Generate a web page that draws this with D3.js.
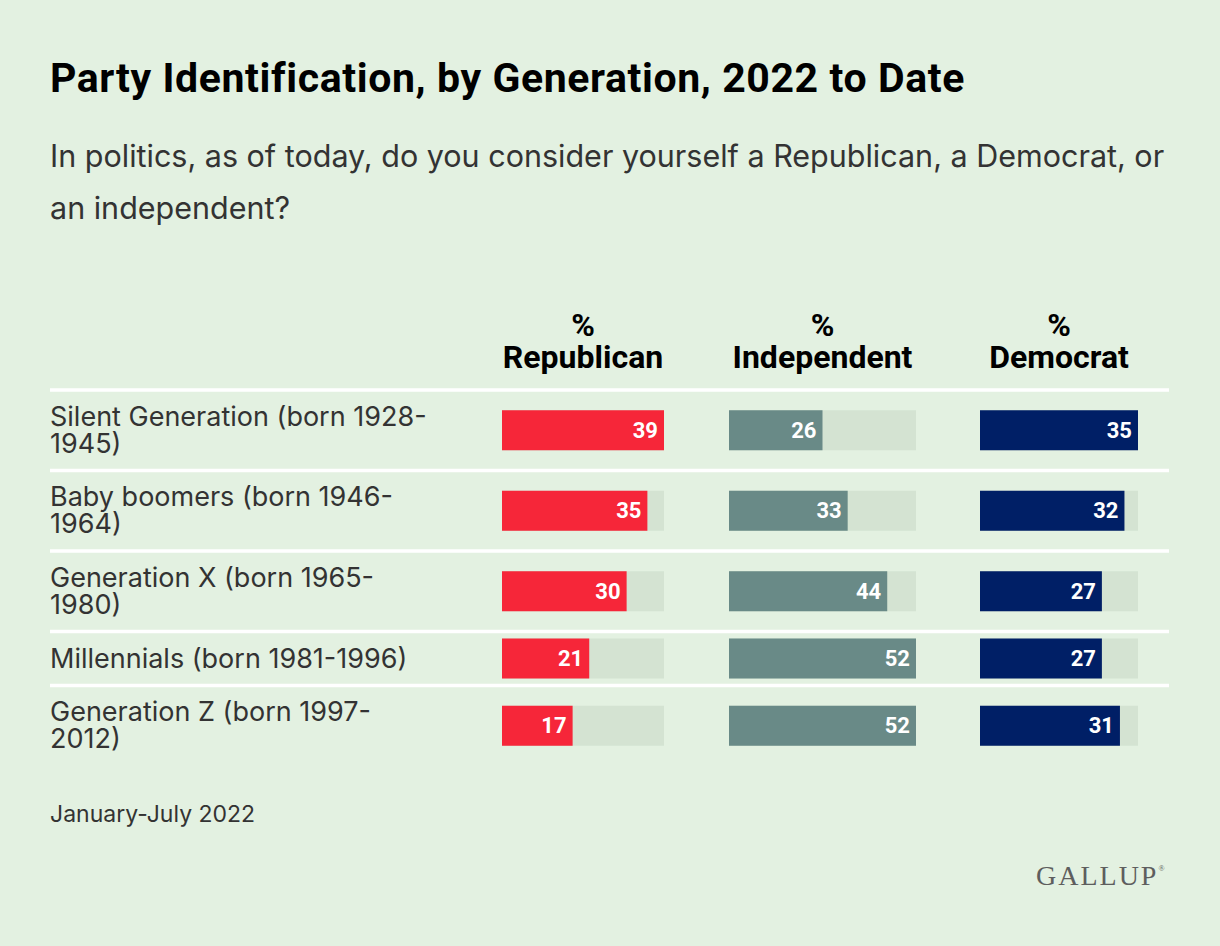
<!DOCTYPE html>
<html>
<head>
<meta charset="utf-8">
<script src="https://cdn.jsdelivr.net/npm/d3@7"></script>
<style>
  html, body { margin: 0; padding: 0; background: #e3f1e1; }
  svg { display: block; }
</style>
</head>
<body>
<svg id="chart" width="1220" height="946"></svg>
<script>
// ---- Data ----
const generations = [
  "Silent Generation (born 1928-1945)",
  "Baby boomers (born 1946-1964)",
  "Generation X (born 1965-1980)",
  "Millennials (born 1981-1996)",
  "Generation Z (born 1997-2012)"
];
const seriesNames = ["Republican", "Independent", "Democrat"];
const republican  = [39, 35, 30, 21, 17];
const independent = [26, 33, 44, 52, 52];
const democrat    = [35, 32, 27, 27, 31];
const titleText = "Party Identification, by Generation, 2022 to Date";
const subtitleLines = [
  "In politics, as of today, do you consider yourself a Republican, a Democrat, or",
  "an independent?"
];
const noteText = "January-July 2022";

// ---- Styling / layout ----
const W = 1220, H = 946;
const colors = { Republican: "#f62639", Independent: "#698a87", Democrat: "#001f66" };
const trackColor = "#d4e3d2";
const textColor = "#333333";
const sansFont = "Inter, 'Noto Sans', sans-serif";
const boldFont = "Roboto, 'Noto Sans', sans-serif";
const labelSize = 27;

const columns = [
  { name: "Republican",  values: republican,  x0: 502, x1: 664 },
  { name: "Independent", values: independent, x0: 729, x1: 916 },
  { name: "Democrat",    values: democrat,    x0: 980, x1: 1138 }
];
columns.forEach(c => {
  c.scale = d3.scaleLinear().domain([0, d3.max(c.values)]).range([c.x0, c.x1]);
});

const svg = d3.select("#chart");
svg.append("rect").attr("width", W).attr("height", H).attr("fill", "#e3f1e1");

// Title
svg.append("text")
  .attr("x", 50).attr("y", 92)
  .attr("font-family", boldFont).attr("font-weight", 700)
  .attr("font-size", 41).attr("letter-spacing", 0.6).attr("fill", "#000")
  .text(titleText);

// Subtitle
svg.append("g").selectAll("text").data(subtitleLines).join("text")
  .attr("x", 50).attr("y", (d, i) => 167 + i * 52)
  .attr("font-family", sansFont).attr("font-size", 30.5)
  .attr("fill", textColor)
  .text(d => d);

// Column headers
const hdr = svg.append("g");
columns.forEach(c => {
  const cx = (c.x0 + c.x1) / 2;
  const t = hdr.append("text")
    .attr("text-anchor", "middle")
    .attr("font-family", boldFont).attr("font-weight", 700).attr("font-size", 32)
    .attr("fill", "#000");
  t.append("tspan").attr("x", cx).attr("y", 336).text("%");
  t.append("tspan").attr("x", cx).attr("y", 368).text(c.name);
});

// Wrap row labels
const measure = svg.append("text")
  .attr("font-family", sansFont).attr("font-size", labelSize)
  .attr("visibility", "hidden");
function wrap(str, maxW) {
  const tokens = str.match(/[^\s-]+-?/g);
  const lines = [];
  let cur = "";
  tokens.forEach(tok => {
    const sep = cur === "" ? "" : (cur.endsWith("-") ? "" : " ");
    const trial = cur + sep + tok;
    measure.text(trial);
    if (cur !== "" && measure.node().getComputedTextLength() > maxW) {
      lines.push(cur);
      cur = tok;
    } else cur = trial;
  });
  if (cur) lines.push(cur);
  return lines;
}
const rowLines = generations.map(g => wrap(g, 382));
measure.remove();

// Row geometry
const lineH = 27;
const rowHeights = rowLines.map(l => l.length > 1 ? 80.5 : 54);
const rowTop = [];
let yy = 390;
rowHeights.forEach(h => { rowTop.push(yy); yy += h; });

// Separator lines
svg.append("g").selectAll("line").data(rowTop).join("line")
  .attr("x1", 50).attr("x2", 1169)
  .attr("y1", d => d).attr("y2", d => d)
  .attr("stroke", "#ffffff").attr("stroke-width", 3.5);

const barH = 40;
const rows = svg.append("g").selectAll("g").data(generations).join("g")
  .attr("transform", (d, i) => `translate(0,${rowTop[i] + rowHeights[i] / 2})`);

// Row labels
rows.each(function(d, i) {
  const g = d3.select(this);
  const lines = rowLines[i];
  const first = lines.length > 1 ? -4.5 : 9;
  g.append("text")
    .attr("font-family", sansFont).attr("font-size", labelSize).attr("fill", textColor)
    .selectAll("tspan").data(lines).join("tspan")
    .attr("x", 50).attr("y", (l, j) => first + j * lineH)
    .text(l => l);
});

// Bars
columns.forEach(c => {
  rows.append("rect")
    .attr("x", c.x0).attr("y", -barH / 2)
    .attr("width", c.x1 - c.x0).attr("height", barH)
    .attr("fill", trackColor);
  rows.append("rect")
    .attr("x", c.x0).attr("y", -barH / 2)
    .attr("width", (d, i) => c.scale(c.values[i]) - c.x0).attr("height", barH)
    .attr("fill", colors[c.name]);
  rows.append("text")
    .attr("x", (d, i) => c.scale(c.values[i]) - 6)
    .attr("y", 7.5)
    .attr("text-anchor", "end")
    .attr("font-family", boldFont).attr("font-weight", 700).attr("font-size", 22)
    .attr("fill", "#ffffff")
    .text((d, i) => c.values[i]);
});

// Footnote
svg.append("text")
  .attr("x", 50).attr("y", 822)
  .attr("font-family", sansFont).attr("font-size", 23).attr("fill", textColor)
  .text(noteText);

// Logo
const logo = svg.append("text")
  .attr("x", 1036).attr("y", 885)
  .attr("font-family", "'Liberation Serif', 'DejaVu Serif', serif")
  .attr("font-size", 28).attr("letter-spacing", 2)
  .attr("fill", "#5e5e5e");
logo.append("tspan").text("GALLUP");
logo.append("tspan").attr("font-size", 8).attr("dy", -14).attr("letter-spacing", 0).text("®");
</script>
</body>
</html>
